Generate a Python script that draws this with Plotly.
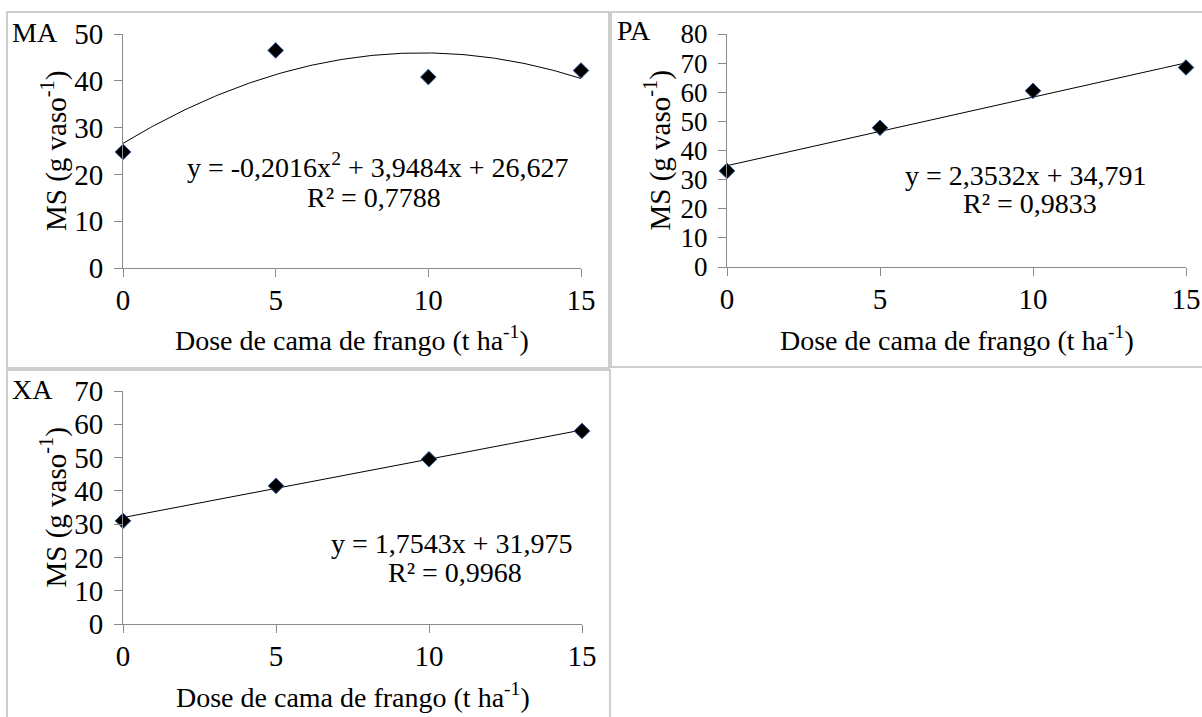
import numpy as np
import plotly.graph_objects as go

W, H = 1202, 717

# ---- data ----
doses = [0, 5, 10, 15]
ma_values = [24.8, 46.5, 40.8, 42.2]
pa_values = [33.0, 47.8, 60.5, 68.5]
xa_values = [31.0, 41.5, 49.5, 58.0]

# regression coefficients shown on the chart (highest power first)
ma_coef = [-0.2016, 3.9484, 26.627]
pa_coef = [2.3532, 34.791]
xa_coef = [1.7543, 31.975]

ma_eq = ["y = -0,2016x<sup>2</sup> + 3,9484x + 26,627", "R² = 0,7788"]
pa_eq = ["y = 2,3532x + 34,791", "R² = 0,9833"]
xa_eq = ["y = 1,7543x + 31,975", "R² = 0,9968"]

x_title = "Dose de cama de frango (t ha<sup>-1</sup>)"
y_title = "MS (g vaso<sup>-1</sup>)"

FONT = "Liberation Serif, Times New Roman, serif"
AX = "#8c8c8c"
XTITLE_SIZE = 28
YTITLE_SIZE = 29
EQ_SIZE = 28
LAB_SIZE = 28


def px(x):
    return x / W


def py(y):
    return (H - y) / H


panels = [
    dict(name="MA", vals=ma_values, coef=ma_coef, eq=ma_eq, x0=123, x1=581, yb=268, yt=34,
         ymax=50, ytick=29, lab=(10, 32), eqc=[(378, 165), (374, 197)], xt=339,
         box=(7, 12, 609, 368)),
    dict(name="PA", vals=pa_values, coef=pa_coef, eq=pa_eq, x0=727, x1=1186, yb=267, yt=34,
         ymax=80, ytick=27, lab=(615, 31), eqc=[(1026, 175), (1030, 204)], xt=339,
         box=(611, 12, 1205, 367)),
    dict(name="XA", vals=xa_values, coef=xa_coef, eq=xa_eq, x0=123, x1=582, yb=624, yt=391,
         ymax=70, ytick=29, lab=(10, 389), eqc=[(452, 543), (455, 572)], xt=695,
         box=(7, 370, 610, 720)),
]

fig = go.Figure()
annotations = []
shapes = []
axes = {}

for i, p in enumerate(panels, start=1):
    xa = "x" if i == 1 else f"x{i}"
    ya = "y" if i == 1 else f"y{i}"
    xk = "xaxis" if i == 1 else f"xaxis{i}"
    yk = "yaxis" if i == 1 else f"yaxis{i}"

    xs = np.linspace(0, 15, 151)
    fig.add_trace(go.Scatter(x=xs, y=np.polyval(p["coef"], xs), mode="lines",
                             line=dict(color="black", width=1), xaxis=xa, yaxis=ya,
                             showlegend=False, hoverinfo="skip"))
    fig.add_trace(go.Scatter(x=doses, y=p["vals"], mode="markers",
                             marker=dict(symbol="diamond", size=12, color="black",
                                         line=dict(color="#2f5597", width=1)),
                             xaxis=xa, yaxis=ya, showlegend=False, cliponaxis=False))

    axes[xk] = dict(domain=[px(p["x0"]), px(p["x1"])], anchor=ya, range=[0, 15],
                    tickvals=[0, 5, 10, 15], showgrid=False, zeroline=False,
                    showline=True, linecolor=AX, linewidth=1, ticks="outside",
                    ticklen=8, tickcolor=AX, automargin=False,
                    tickfont=dict(family=FONT, size=29, color="black"),
                    ticklabelstandoff=-2, fixedrange=True)
    axes[yk] = dict(domain=[py(p["yb"]), py(p["yt"])], anchor=xa, range=[0, p["ymax"]],
                    dtick=10, showgrid=False, zeroline=False,
                    showline=True, linecolor=AX, linewidth=1, ticks="outside",
                    ticklen=8, tickcolor=AX, automargin=False,
                    tickfont=dict(family=FONT, size=p["ytick"], color="black"),
                    ticklabelstandoff=5, fixedrange=True)

    annotations.append(dict(text=p["name"], x=px(p["lab"][0]), y=py(p["lab"][1]), xref="paper",
                            yref="paper", xanchor="left", yanchor="middle", showarrow=False,
                            font=dict(family=FONT, size=LAB_SIZE, color="black")))
    for t, (cx, cy) in zip(p["eq"], p["eqc"]):
        annotations.append(dict(text=t, x=px(cx), y=py(cy), xref="paper", yref="paper",
                                xanchor="center", yanchor="middle", showarrow=False,
                                font=dict(family=FONT, size=EQ_SIZE, color="black")))
    annotations.append(dict(text=x_title, x=px((p["x0"] + p["x1"]) / 2), y=py(p["xt"]),
                            xref="paper", yref="paper", xanchor="center", yanchor="middle",
                            showarrow=False, font=dict(family=FONT, size=XTITLE_SIZE, color="black")))
    annotations.append(dict(text=y_title, x=px(p["x0"] - 69), y=py((p["yb"] + p["yt"]) / 2),
                            xref="paper", yref="paper", xanchor="center", yanchor="middle",
                            textangle=-90, showarrow=False,
                            font=dict(family=FONT, size=YTITLE_SIZE, color="black")))
    bx0, by0, bx1, by1 = p["box"]
    shapes.append(dict(type="rect", xref="paper", yref="paper", x0=px(bx0), x1=px(bx1),
                       y0=py(by1), y1=py(by0), line=dict(color="#bfbfbf", width=1.5),
                       fillcolor="rgba(0,0,0,0)", layer="below"))

fig.update_layout(width=W, height=H, margin=dict(l=0, r=0, t=0, b=0, pad=0, autoexpand=False),
                  paper_bgcolor="white", plot_bgcolor="white",
                  annotations=annotations, shapes=shapes,
                  font=dict(family=FONT, color="black"), **axes)

fig.write_html("out.html", config={"displayModeBar": False},
               post_script="document.body.style.margin='0px';")
